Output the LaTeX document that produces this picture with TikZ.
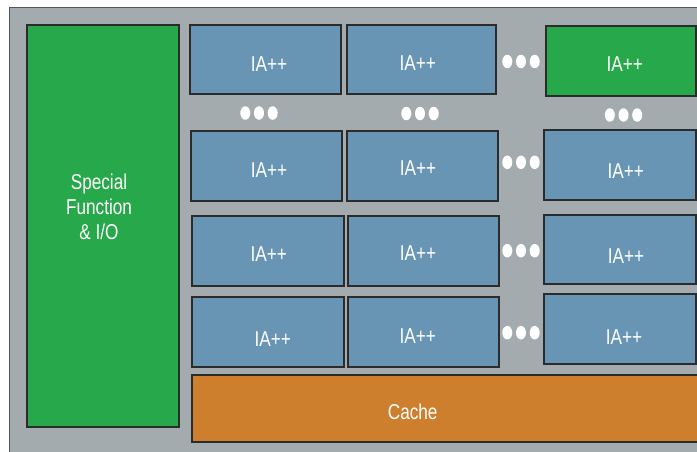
\documentclass[tikz,border=0pt]{standalone}
\usepackage{fontspec}
\setmainfont{Liberation Sans}[FakeStretch=0.8]
\usetikzlibrary{shapes.geometric}
\definecolor{bgc}{HTML}{A4ABAE}
\definecolor{blu}{HTML}{6995B5}
\definecolor{grn}{HTML}{27A84A}
\definecolor{org}{HTML}{CD7F2E}
\definecolor{edgec}{HTML}{2B2B2B}
\newcommand{\boxat}[6]{% style, name, x1,y1,x2,y2
  \node[#1, minimum width={#5-#3}, minimum height={#6-#4}] (#2) at ({(#3+#5)/2},{(#4+#6)/2}) {};}
\newcommand{\dotsat}[3]{% name, cx, cy
  \node[dotn] (#1a) at ({#2-13.7},#3) {};
  \node[dotn] (#1b) at (#2,#3) {};
  \node[dotn] (#1c) at ({#2+13.7},#3) {};}
\begin{document}
\begin{tikzpicture}[x=1pt,y=-1pt,
  blk/.style={draw=edgec, line width=1.2pt, fill=blu, inner sep=0pt, rectangle},
  gblk/.style={blk, fill=grn},
  oblk/.style={blk, fill=org},
  lbl/.style={text=white, inner sep=0pt, font=\fontsize{21.5}{25}\selectfont},
  dotn/.style={ellipse, fill=white, draw=none, minimum width=10pt, minimum height=13.5pt, inner sep=0pt}]
\useasboundingbox (0,0) rectangle (697,451);
\clip (0,0) rectangle (697,451);
\fill[white] (0,0) rectangle (697,451);
\node[draw=edgec!80, line width=1pt, fill=bgc, inner sep=0pt, minimum width=720pt, minimum height=470pt, anchor=north west] (chip) at (9,7) {};
% special function
\boxat{gblk}{sf}{27}{25}{179}{427}
\node[lbl, align=center] (sft) at (99,207) {Special\\Function\\\& I/O};
% row 1
\boxat{blk}{a11}{190}{25}{341}{94}
\boxat{blk}{a12}{347}{25}{496}{94}
\boxat{gblk}{a13}{546}{26}{696}{96}
\node[lbl] (a11t) at (269,64) {IA++};
\node[lbl] (a12t) at (417.7,63) {IA++};
\node[lbl] (a13t) at (624.7,64) {IA++};
% row 2
\boxat{blk}{a21}{191}{131}{342}{201}
\boxat{blk}{a22}{347}{131}{498}{201}
\boxat{blk}{a23}{544}{130}{696}{200}
\node[lbl] (a21t) at (269,170) {IA++};
\node[lbl] (a22t) at (418,167.7) {IA++};
\node[lbl] (a23t) at (625.7,170.7) {IA++};
% row 3
\boxat{blk}{a31}{192}{216}{344}{286}
\boxat{blk}{a32}{348}{216}{499}{286}
\boxat{blk}{a33}{544}{215}{696}{284}
\node[lbl] (a31t) at (268.7,254) {IA++};
\node[lbl] (a32t) at (418,253.3) {IA++};
\node[lbl] (a33t) at (626,256) {IA++};
% row 4
\boxat{blk}{a41}{192}{297}{344}{367}
\boxat{blk}{a42}{348}{297}{499}{367}
\boxat{blk}{a43}{544}{294}{696}{364}
\node[lbl] (a41t) at (272.7,339) {IA++};
\node[lbl] (a42t) at (417.7,336) {IA++};
\node[lbl] (a43t) at (624,337) {IA++};
% cache
\boxat{oblk}{cache}{192}{375}{705}{442}
\node[lbl] (cachet) at (412.7,411.7) {Cache};
% dots
\dotsat{d1}{521}{61.5}
\dotsat{d2}{259}{113}
\dotsat{d3}{420}{113.5}
\dotsat{d4}{623.5}{115}
\dotsat{d5}{521}{162.3}
\dotsat{d6}{521}{250.7}
\dotsat{d7}{521}{332.7}
\end{tikzpicture}
\end{document}
